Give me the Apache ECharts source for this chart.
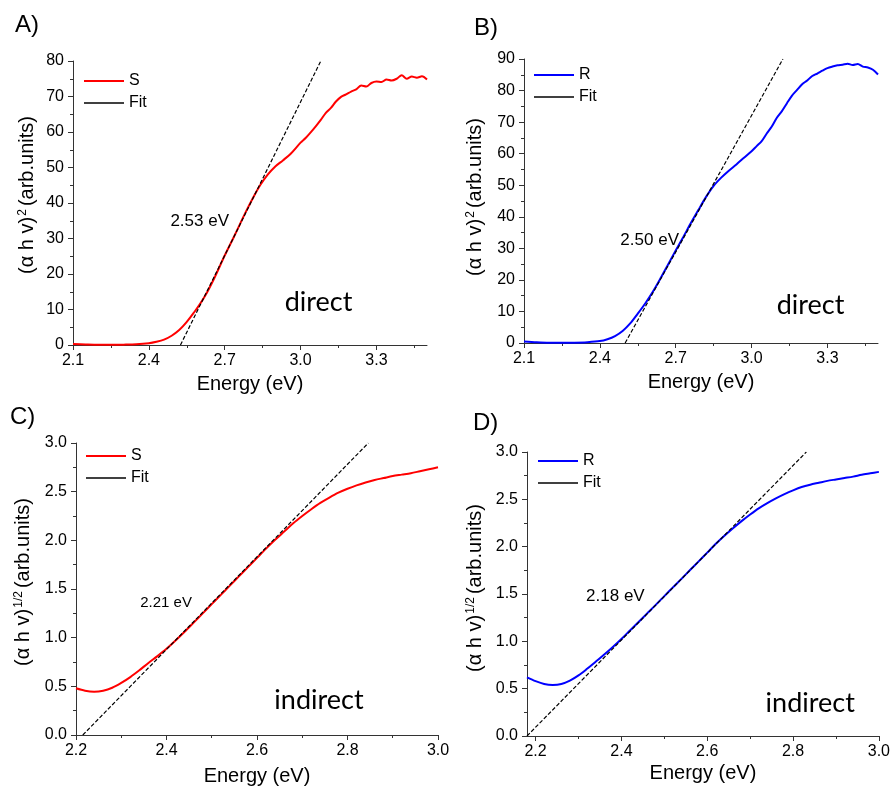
<!DOCTYPE html>
<html><head><meta charset="utf-8">
<script src="https://cdn.jsdelivr.net/npm/echarts@6/dist/echarts.min.js"></script>
<style>html,body{margin:0;padding:0;background:#fff}#c{width:893px;height:789px}</style>
</head><body><div id="c"></div>
<script>
// ---------- Panel A: S, direct ----------
const aEnergy = [2.10,2.15,2.20,2.25,2.30,2.35,2.40,2.43,2.46,2.49,2.52,2.55,2.58,2.60,2.63,2.66,2.70,2.74,2.78,2.81,2.84,2.87,2.90,2.93,2.96,3.00,3.02,3.04,3.06,3.08,3.10,3.12,3.14,3.16,3.18,3.20,3.22,3.24,3.26,3.28,3.30,3.32,3.34,3.36,3.38,3.40,3.42,3.44,3.46,3.48,3.50];
const aValue  = [0.3,0.15,0.05,0.05,0.1,0.2,0.5,0.9,1.5,2.6,4.2,6.5,9.3,11.3,14.8,19.0,25.2,31.0,37.0,41.2,45.0,48.0,50.3,52.0,53.8,57.0,58.3,59.9,61.6,63.4,65.4,66.8,68.6,69.9,70.6,71.4,72.0,73.1,72.8,73.8,74.2,74.1,74.8,74.5,75.0,76.0,75.0,75.6,75.3,75.7,74.8];
const aFitEnergy = [2.525, 3.08];
const aFitValue  = [0, 80];

// ---------- Panel B: R, direct ----------
const bEnergy = [2.10,2.15,2.20,2.25,2.30,2.35,2.40,2.43,2.46,2.49,2.52,2.55,2.58,2.61,2.64,2.67,2.70,2.73,2.76,2.79,2.82,2.85,2.88,2.91,2.94,2.97,3.00,3.02,3.04,3.06,3.08,3.10,3.12,3.14,3.16,3.18,3.20,3.22,3.24,3.26,3.28,3.30,3.32,3.34,3.36,3.38,3.40,3.42,3.44,3.46,3.48,3.50];
const bValue  = [0.5,0.2,0.05,0.05,0.1,0.25,0.6,1.2,2.2,3.8,6.2,9.3,12.6,16.3,20.5,24.9,29.3,33.6,38.0,42.2,46.3,49.8,52.4,54.6,56.6,58.7,60.8,62.4,64.0,66.4,68.6,71.4,73.5,76.0,78.4,80.2,82.0,83.2,84.6,85.4,86.3,87.1,87.6,88.0,88.2,88.5,88.1,88.4,87.6,87.3,86.6,85.1];
const bFitEnergy = [2.50, 3.124];
const bFitValue  = [0, 90];

// ---------- Panel C: S, indirect ----------
const cEnergy = [2.20,2.22,2.24,2.26,2.28,2.30,2.32,2.34,2.36,2.38,2.40,2.42,2.44,2.46,2.48,2.50,2.52,2.54,2.56,2.58,2.60,2.62,2.64,2.66,2.68,2.70,2.72,2.74,2.76,2.78,2.80,2.82,2.84,2.86,2.88,2.90,2.92,2.94,2.96,2.98,3.00];
const cValue  = [0.48,0.455,0.445,0.455,0.485,0.535,0.595,0.665,0.74,0.81,0.885,0.97,1.06,1.155,1.25,1.345,1.44,1.535,1.63,1.725,1.82,1.915,2.005,2.09,2.175,2.25,2.32,2.385,2.44,2.49,2.53,2.565,2.595,2.62,2.64,2.66,2.675,2.69,2.71,2.73,2.75];
const cFitEnergy = [2.215, 2.846];
const cFitValue  = [0, 3.0];

// ---------- Panel D: R, indirect ----------
const dEnergy = [2.18,2.20,2.22,2.24,2.26,2.28,2.30,2.32,2.34,2.36,2.38,2.40,2.42,2.44,2.46,2.48,2.50,2.52,2.54,2.56,2.58,2.60,2.62,2.64,2.66,2.68,2.70,2.72,2.74,2.76,2.78,2.80,2.82,2.84,2.86,2.88,2.90,2.92,2.94,2.96,2.98,3.00];
const dValue  = [0.62,0.58,0.55,0.54,0.55,0.585,0.64,0.71,0.785,0.86,0.94,1.025,1.115,1.205,1.295,1.385,1.478,1.57,1.66,1.753,1.845,1.937,2.03,2.115,2.195,2.27,2.34,2.405,2.46,2.51,2.555,2.595,2.63,2.655,2.675,2.695,2.71,2.725,2.74,2.76,2.775,2.79];
const dFitEnergy = [2.18, 2.831];
const dFitValue  = [0, 3.0];

// ---------- tick labels ----------
const abMajorTicks = [2.1, 2.4, 2.7, 3.0, 3.3];
const abMinorTicks = [2.25, 2.55, 2.85, 3.15, 3.45];
const cdMajorTicks = [2.2, 2.4, 2.6, 2.8, 3.0];
const cdMinorTicks = [2.3, 2.5, 2.7, 2.9];

const panelLabels = ['A)', 'B)', 'C)', 'D)'];
const gapLabels = ['2.53 eV', '2.50 eV', '2.21 eV', '2.18 eV'];
const typeLabels = ['direct', 'direct', 'indirect', 'indirect'];

const pairs = (xs, ys) => xs.map((x, i) => [x, ys[i]]);
const FONT = 'Liberation Sans, Arial, sans-serif';
const AX = '#333';

const grids = [
  {left: 73, top: 61, width: 354, height: 284},
  {left: 524, top: 59, width: 354, height: 284},
  {left: 76, top: 443, width: 362, height: 292},
  {left: 527, top: 452, width: 354, height: 284}
];

function mainX(gi, min, max, major, nameGap) {
  return {
    type: 'value', gridIndex: gi, min: min, max: max, position: 'bottom',
    name: 'Energy (eV)', nameLocation: 'middle', nameGap: nameGap,
    nameTextStyle: {fontFamily: FONT, fontSize: 20, color: '#000'},
    axisLine: {show: true, lineStyle: {color: AX, width: 1}},
    axisTick: {show: true, length: 5, lineStyle: {color: AX}, customValues: major},
    axisLabel: {fontFamily: FONT, fontSize: 16, color: '#000', margin: 8, customValues: major,
      formatter: v => Number(v).toFixed(1)},
    splitLine: {show: false}
  };
}
function minorX(gi, min, max, minor) {
  return {
    type: 'value', gridIndex: gi, min: min, max: max, position: 'bottom',
    axisLine: {show: false},
    axisTick: {show: true, length: 3, lineStyle: {color: AX}, customValues: minor},
    axisLabel: {show: false}, splitLine: {show: false}
  };
}
function mainY(gi, max, interval, nameHtml, nameGap, pad, dec) {
  return {
    type: 'value', gridIndex: gi, min: 0, max: max, interval: interval,
    name: nameHtml, nameLocation: 'middle', nameGap: nameGap,
    nameTextStyle: {fontFamily: FONT, fontSize: 20, color: '#000', padding: [0, 0, 0, pad],
      rich: {sup: {fontFamily: FONT, fontSize: 12, color: '#000', verticalAlign: 'top', padding: [0, 3, 0, 1]}}},
    axisLine: {show: true, lineStyle: {color: AX, width: 1}},
    axisTick: {show: true, length: 5, lineStyle: {color: AX}},
    minorTick: {show: true, splitNumber: 2, length: 3, lineStyle: {color: AX}},
    axisLabel: {fontFamily: FONT, fontSize: 16, color: '#000', margin: 9,
      formatter: v => dec ? Number(v).toFixed(1) : String(v)},
    splitLine: {show: false}
  };
}

const xAxes = [
  mainX(0, 2.1, 3.5, abMajorTicks, 29),
  mainX(1, 2.1, 3.5, abMajorTicks, 29),
  mainX(2, 2.2, 3.0, cdMajorTicks, 31),
  mainX(3, 2.18, 3.0, cdMajorTicks, 27),
  minorX(0, 2.1, 3.5, abMinorTicks),
  minorX(1, 2.1, 3.5, abMinorTicks),
  minorX(2, 2.2, 3.0, cdMinorTicks),
  minorX(3, 2.18, 3.0, cdMinorTicks)
];
const yAxes = [
  mainY(0, 80, 10, '(α h v){sup|2}(arb.units)', 36, 16, false),
  mainY(1, 90, 10, '(α h v){sup|2}(arb.units)', 39, 8, false),
  mainY(2, 3, 0.5, '(α h v){sup|1/2}(arb.units)', 43, 14, true),
  mainY(3, 3, 0.5, '(α h v){sup|1/2}(arb.units)', 42, 12, true)
];

const RED = '#ff0000', BLUE = '#0000ff';
function curve(name, color, gi, xs, ys) {
  return {type: 'line', name: name, xAxisIndex: gi, yAxisIndex: gi, data: pairs(xs, ys),
    showSymbol: false, symbol: 'none', smooth: 0.3, lineStyle: {color: color, width: 2}, itemStyle: {color: color},
    z: 3};
}
function fit(gi, xs, ys, gapPos, gapSize, typePos) {
  return {type: 'line', name: 'Fit', xAxisIndex: gi, yAxisIndex: gi, data: pairs(xs, ys),
    showSymbol: false, symbol: 'none', lineStyle: {color: '#000', width: 1.2, type: [4, 2]}, itemStyle: {color: '#000'},
    z: 4,
    markPoint: {symbol: 'circle', symbolSize: 1, itemStyle: {color: 'rgba(0,0,0,0)'}, silent: true,
      data: [
        {coord: gapPos, label: {show: true, position: 'inside', formatter: gapLabels[gi], fontFamily: FONT, fontSize: gapSize, color: '#000'}},
        {coord: typePos, label: {show: true, position: 'inside', formatter: typeLabels[gi], fontFamily: 'Lato, Open Sans, sans-serif', fontSize: 27, color: '#000'}}
      ]}
  };
}

const series = [
  curve('S', RED, 0, aEnergy, aValue),
  fit(0, aFitEnergy, aFitValue, [2.601, 34.9], 17, [3.071, 12.1]),
  curve('R', BLUE, 1, bEnergy, bValue),
  fit(1, bFitEnergy, bFitValue, [2.597, 32.6], 17, [3.233, 12.0]),
  curve('S', RED, 2, cEnergy, cValue),
  fit(2, cFitEnergy, cFitValue, [2.399, 1.357], 15, [2.737, 0.36]),
  curve('R', BLUE, 3, dEnergy, dValue),
  fit(3, dFitEnergy, dFitValue, [2.386, 1.478], 17, [2.84, 0.35])
];

function legend(first, left, top) {
  return {orient: 'vertical', left: left, top: top, itemWidth: 40, itemHeight: 16, itemGap: 6,
    selectedMode: false, padding: 0,
    itemStyle: {opacity: 0},
    textStyle: {fontFamily: FONT, fontSize: 16, color: '#000'},
    data: [{name: first}, {name: 'Fit', lineStyle: {type: 'solid', width: 1.6, color: '#000'}}]};
}

const panelPos = [[15, 13], [474, 16], [10, 405], [473, 411]];

const chart = echarts.init(document.getElementById('c'), null, {renderer: 'canvas'});
chart.setOption({
  animation: false,
  backgroundColor: '#fff',
  grid: grids,
  xAxis: xAxes,
  yAxis: yAxes,
  legend: [legend('S', 83, 73), legend('R', 533, 67), legend('S', 85, 448), legend('R', 537, 453)],
  series: series,
  graphic: panelLabels.map((t, i) => ({type: 'text', left: panelPos[i][0], top: panelPos[i][1],
    style: {text: t, font: '24px "Liberation Sans", Arial, sans-serif', fill: '#000'}}))
});
</script></body></html>
